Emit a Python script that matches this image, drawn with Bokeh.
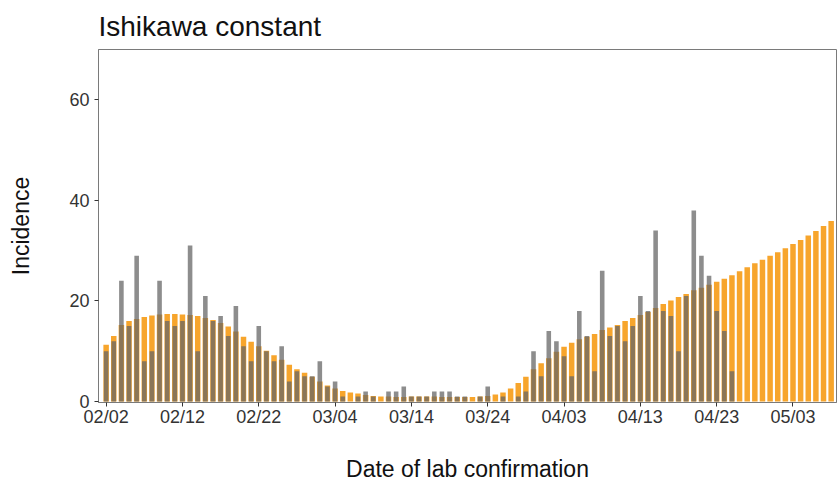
from bokeh.plotting import figure
from bokeh.models import Range1d, FixedTicker, ColumnDataSource
from bokeh.embed import file_html
from bokeh.resources import INLINE

# Days since 02/02
model_incidence = [
    11.3, 13.0, 15.2, 16.0, 16.4, 16.8, 17.1, 17.3, 17.4, 17.4,
    17.3, 17.2, 17.0, 16.6, 16.2, 15.6, 14.9, 13.9, 12.9, 11.9,
    11.0, 10.1, 9.2, 8.3, 7.3, 6.4, 5.7, 4.9, 4.0, 3.2,
    2.6, 2.1, 1.8, 1.6, 1.3, 1.1, 1.0, 1.0, 0.9, 0.9,
    1.0, 1.0, 1.0, 1.0, 0.9, 0.9, 0.9, 0.9, 0.9, 1.0,
    1.1, 1.4, 1.8, 2.6, 3.7, 4.9, 6.4, 7.6, 8.6, 9.9,
    10.9, 11.7, 12.4, 12.9, 13.4, 14.2, 14.7, 15.2, 16.0, 16.6,
    17.2, 17.8, 18.6, 19.4, 20.1, 20.8, 21.4, 22.1, 22.6, 23.2,
    23.8, 24.4, 25.1, 25.9, 26.7, 27.5, 28.2, 29.0, 29.7, 30.5,
    31.3, 32.1, 33.0, 33.9, 34.9, 35.9,
]
observed_incidence = [
    10, 12, 24, 15, 29, 8, 10, 24, 16, 15,
    16, 31, 10, 21, 16, 17, 13, 19, 11, 8,
    15, 10, 8, 11, 4, 6, 5, 5, 8, 3,
    4, 1, 0, 1, 2, 1, 0, 2, 2, 3,
    1, 1, 1, 2, 2, 2, 1, 1, 0, 1,
    3, 0, 1, 0, 1, 2, 10, 5, 14, 12,
    9, 5, 18, 13, 6, 26, 13, 15, 12, 15,
    21, 18, 34, 18, 17, 10, 21, 38, 29, 25,
    18, 14, 6,
]
model_days = list(range(len(model_incidence)))
observed_days = list(range(len(observed_incidence)))

tick_days = [0, 10, 20, 30, 40, 50, 60, 70, 80, 90]
tick_labels = ["02/02", "02/12", "02/22", "03/04", "03/14",
               "03/24", "04/03", "04/13", "04/23", "05/03"]
y_ticks = [0, 20, 40, 60]

FONT = "Liberation Sans"

p = figure(width=840, height=484, output_backend="svg", toolbar_location=None,
           x_range=Range1d(-1.0, 95.7), y_range=Range1d(-0.2, 70),
           min_border_left=98, min_border_right=4, min_border_top=48,
           min_border_bottom=81, title="Ishikawa constant")

model_src = ColumnDataSource(dict(x=model_days, y=model_incidence))
obs_src = ColumnDataSource(dict(x=observed_days, y=observed_incidence))

p.vbar(x="x", top="y", bottom=0, width=0.72, source=model_src,
       fill_color="#F7A52C", line_color=None)
p.vbar(x="x", top="y", bottom=0, width=0.6, source=obs_src,
       fill_color="#676767", fill_alpha=0.75, line_color=None)

p.title.text_font = FONT
p.title.text_font_size = "28px"
p.title.text_font_style = "normal"
p.title.text_color = "#111111"
p.title.text_line_height = 0.9
p.title.standoff = 16
p.title.offset = 0

p.xgrid.visible = False
p.ygrid.visible = False
p.background_fill_color = "white"
p.border_fill_color = "white"
p.outline_line_color = "#7a7a7a"
p.outline_line_width = 1

p.xaxis.ticker = FixedTicker(ticks=tick_days)
p.xaxis.major_label_overrides = {d: l for d, l in zip(tick_days, tick_labels)}
p.yaxis.ticker = FixedTicker(ticks=y_ticks)

for ax in (p.xaxis[0], p.yaxis[0]):
    ax.axis_line_color = "#7a7a7a"
    ax.major_tick_line_color = "#333333"
    ax.major_tick_out = 4
    ax.major_tick_in = 0
    ax.minor_tick_line_color = None
    ax.major_label_text_font = FONT
    ax.major_label_text_font_size = "18px"
    ax.major_label_text_color = "#333333"
    ax.axis_label_text_font = FONT
    ax.axis_label_text_font_size = "23px"
    ax.axis_label_text_font_style = "normal"
    ax.axis_label_text_color = "#111111"

p.xaxis.axis_label = "Date of lab confirmation"
p.yaxis.axis_label = "Incidence"
p.xaxis.major_label_standoff = 0
p.yaxis.major_label_standoff = 5
p.xaxis.axis_label_standoff = 26
p.yaxis.axis_label_standoff = 32

open("out.html", "w").write(file_html(p, INLINE))
